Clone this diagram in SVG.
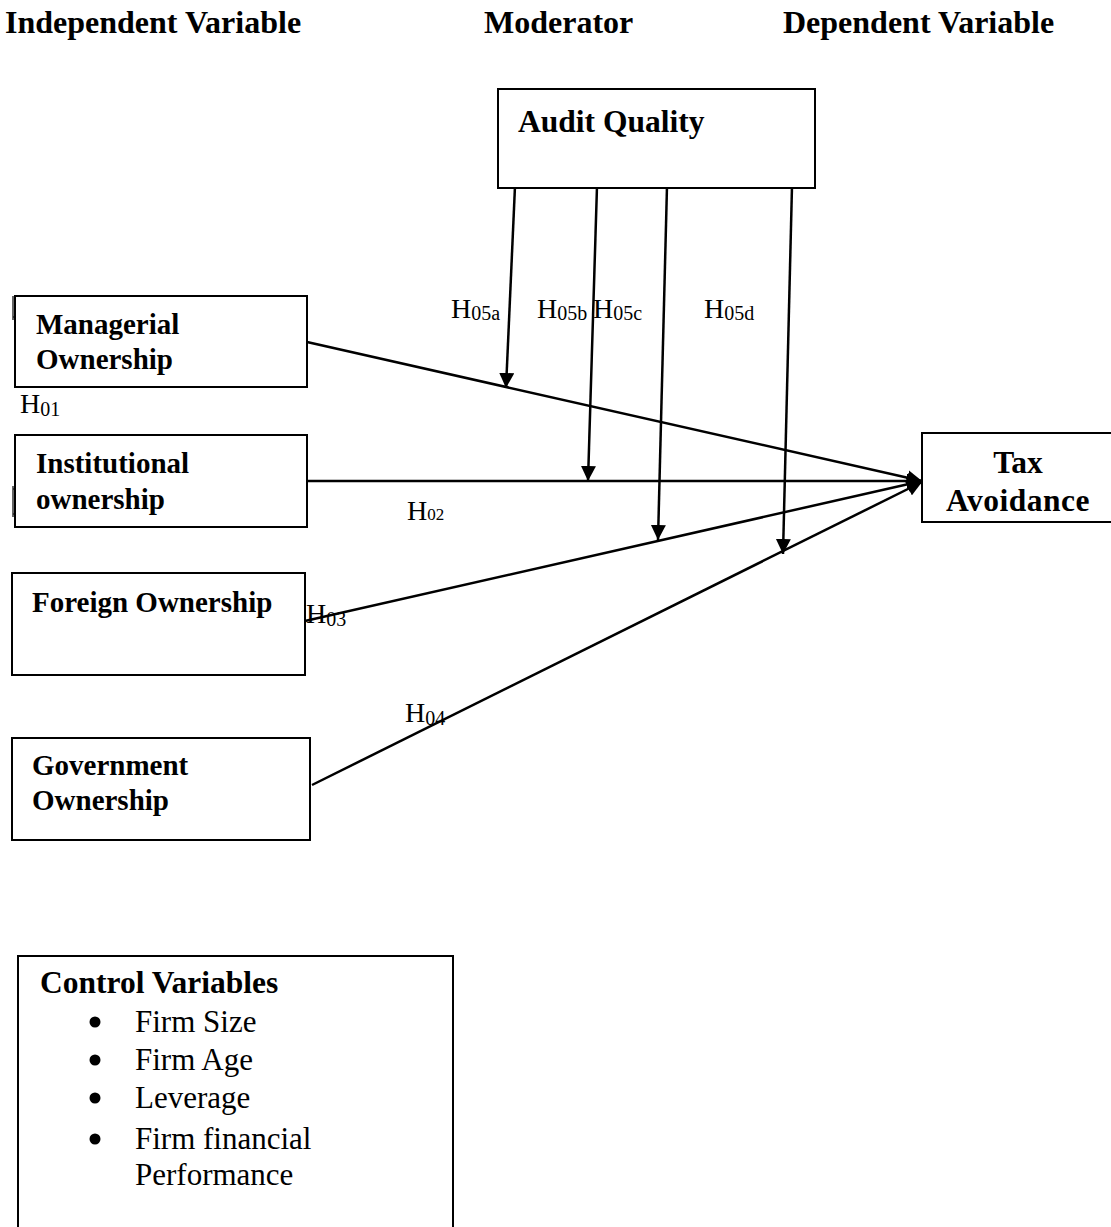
<svg xmlns="http://www.w3.org/2000/svg" width="1111" height="1227" viewBox="0 0 1111 1227">
<defs>
<style>
.hdr{font-family:"Liberation Serif","Times New Roman",serif;font-weight:bold;font-size:32px;fill:#000}
.bt{font-family:"Liberation Serif","Times New Roman",serif;font-weight:bold;font-size:29px;fill:#000}
.bt2{font-family:"Liberation Serif","Times New Roman",serif;font-weight:bold;font-size:31.5px;fill:#000}
.h{font-family:"Liberation Serif","Times New Roman",serif;font-size:28px;fill:#000}
.sub{font-size:20px}
.it{font-family:"Liberation Serif","Times New Roman",serif;font-size:31px;fill:#000}
.box{fill:#fff;stroke:#000;stroke-width:2}
.con{fill:none;stroke:#000;stroke-width:2.5}
</style>
<marker id="arr" markerUnits="userSpaceOnUse" markerWidth="17" markerHeight="15" refX="15" refY="7.5" orient="auto">
<path d="M0,0 L15,7.5 L0,15 Z" fill="#000"/>
</marker>
</defs>
<rect width="1111" height="1227" fill="#fff"/>

<g id="headers">
<text class="hdr" x="5" y="33">Independent Variable</text>
<text class="hdr" x="484" y="33">Moderator</text>
<text class="hdr" x="783" y="33">Dependent Variable</text>
</g>

<g id="marks" stroke="#000" stroke-width="1.2" fill="none">
<path d="M13,296 V320 M13,317 H16"/>
<path d="M13,486 V517 M13,489 H16 M13,514 H16"/>
</g>

<g id="connectors">
<line class="con" x1="307" y1="342" x2="922" y2="481" marker-end="url(#arr)"/>
<line class="con" x1="307" y1="481" x2="922" y2="481" marker-end="url(#arr)"/>
<line class="con" x1="305" y1="621" x2="922" y2="481" marker-end="url(#arr)"/>
<line class="con" x1="312" y1="785" x2="922" y2="482" marker-end="url(#arr)"/>
<line class="con" x1="515" y1="186" x2="506" y2="388" marker-end="url(#arr)"/>
<line class="con" x1="597" y1="186" x2="588" y2="481" marker-end="url(#arr)"/>
<line class="con" x1="667" y1="186" x2="658" y2="540" marker-end="url(#arr)"/>
<line class="con" x1="792" y1="186" x2="783" y2="554" marker-end="url(#arr)"/>
</g>

<g id="audit-quality">
<rect class="box" x="498" y="89" width="317" height="99"/>
<text class="bt2" x="518" y="132">Audit Quality</text>
</g>

<g id="managerial-ownership">
<rect class="box" x="15" y="296" width="292" height="91"/>
<text class="bt" x="36" y="334">Managerial</text>
<text class="bt" x="36" y="369">Ownership</text>
</g>

<g id="institutional-ownership">
<rect class="box" x="15" y="435" width="292" height="92"/>
<text class="bt" x="36" y="473">Institutional</text>
<text class="bt" x="36" y="509">ownership</text>
</g>

<g id="foreign-ownership">
<rect class="box" x="12" y="573" width="293" height="102"/>
<text class="bt" x="32" y="612">Foreign Ownership</text>
</g>

<g id="government-ownership">
<rect class="box" x="12" y="738" width="298" height="102"/>
<text class="bt" x="32" y="775">Government</text>
<text class="bt" x="32" y="810">Ownership</text>
</g>

<g id="tax-avoidance">
<rect class="box" x="922" y="433" width="190" height="89"/>
<text class="bt2" x="1018" y="473" text-anchor="middle">Tax</text>
<text class="bt2" x="1018" y="511" text-anchor="middle" letter-spacing="0.5">Avoidance</text>
</g>

<g id="hypothesis-labels">
<text class="h" x="20" y="413" font-size="26">H<tspan class="sub" font-size="18" dy="3">01</tspan></text>
<text class="h" x="407" y="520" font-size="25">H<tspan font-size="17">02</tspan></text>
<text class="h" x="306" y="623">H<tspan class="sub" dy="3">03</tspan></text>
<text class="h" x="405" y="722">H<tspan class="sub" dy="3">04</tspan></text>
<text class="h" x="451" y="318">H<tspan class="sub" dy="2">05a</tspan></text>
<text class="h" x="537" y="318">H<tspan class="sub" dy="2">05b</tspan></text>
<text class="h" x="593" y="318">H<tspan class="sub" dy="2">05c</tspan></text>
<text class="h" x="704" y="318">H<tspan class="sub" dy="2">05d</tspan></text>
</g>

<g id="control-variables">
<path d="M18,1230 V956 H453 V1230" fill="none" stroke="#000" stroke-width="2"/>
<text class="bt2" x="40" y="993">Control Variables</text>
<g fill="#000">
<circle cx="95" cy="1022" r="5.5"/>
<circle cx="95" cy="1060" r="5.5"/>
<circle cx="95" cy="1098" r="5.5"/>
<circle cx="95" cy="1139" r="5.5"/>
</g>
<text class="it" x="135" y="1032">Firm Size</text>
<text class="it" x="135" y="1070">Firm Age</text>
<text class="it" x="135" y="1108">Leverage</text>
<text class="it" x="135" y="1149">Firm financial</text>
<text class="it" x="135" y="1185">Performance</text>
</g>
</svg>
